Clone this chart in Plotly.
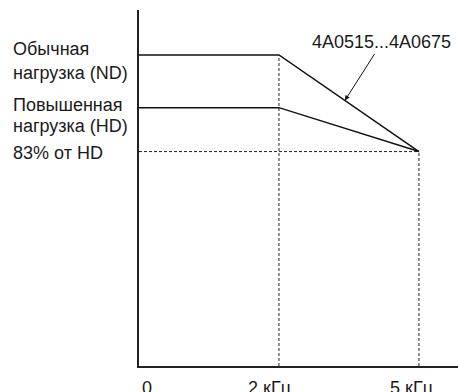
import plotly.graph_objects as go

# Data
x_pos = [0, 1, 2]
x_labels = ["0", "2 кГц", "5 кГц"]
nd_values = [120.4, 120.4, 83]
hd_values = [100, 100, 83]
hd83_value = 83
y_max = 137.8
x_max = 2.279

fig = go.Figure()

dash_style = dict(color="#222", width=1, dash="3px,2px")
# dashed guides
fig.add_trace(go.Scatter(x=[0, x_pos[2]], y=[hd83_value, hd83_value], mode="lines", line=dash_style, hoverinfo="skip"))
fig.add_trace(go.Scatter(x=[x_pos[1], x_pos[1]], y=[0, nd_values[1]], mode="lines", line=dash_style, hoverinfo="skip"))
fig.add_trace(go.Scatter(x=[x_pos[2], x_pos[2]], y=[0, hd83_value], mode="lines", line=dash_style, hoverinfo="skip"))

solid = dict(color="#111", width=1.5)
fig.add_trace(go.Scatter(x=x_pos, y=nd_values, mode="lines", line=solid))
fig.add_trace(go.Scatter(x=x_pos, y=hd_values, mode="lines", line=solid))

font = dict(family="Liberation Sans, Arial, sans-serif", size=18, color="#1a1a1a")

L, T, W, H = 139, 10, 458, 392
PW, PH = W - L, 356
B = H - T - PH

annotations = []
left_labels = [("Обычная", 49), ("нагрузка (ND)", 73.5), ("Повышенная", 104.5), ("нагрузка (HD)", 126), ("83% от HD", 153.5)]
for txt, py in left_labels:
    annotations.append(dict(text=txt, xref="paper", yref="paper", x=-L / PW, xshift=11, y=(H - B - py) / PH,
                            xanchor="left", yanchor="middle", showarrow=False, font=font))
# x tick labels
shifts = [1, -9, -7]
anchors = ["left", "center", "center"]
for xp, lab, s, a in zip(x_pos, x_labels, shifts, anchors):
    annotations.append(dict(text=lab, x=xp, xref="x", y=0, yref="y", yanchor="top", yshift=-10, xshift=s,
                            xanchor=a, showarrow=False, font=font))
# arrow annotation
ax_x = 1.471
ax_y = nd_values[1] + (nd_values[2] - nd_values[1]) * (ax_x - x_pos[1]) / (x_pos[2] - x_pos[1])
annotations.append(dict(text="4A0515...4A0675", x=ax_x, y=ax_y, xref="x", yref="y", ax=37, ay=-58,
                        showarrow=True, arrowhead=2, arrowsize=1, arrowwidth=1, arrowcolor="#111",
                        font=font, standoff=0))

fig.update_layout(
    width=W, height=H,
    margin=dict(l=L, r=0, t=T, b=B),
    paper_bgcolor="white", plot_bgcolor="white",
    showlegend=False,
    annotations=annotations,
    xaxis=dict(range=[0, x_max], showgrid=False, zeroline=False, showticklabels=False, ticks="",
               showline=True, linecolor="#222", linewidth=2),
    yaxis=dict(range=[0, y_max], showgrid=False, zeroline=False, showticklabels=False, ticks="",
               showline=True, linecolor="#222", linewidth=2),
)

fig.write_html("out.html", config={"displayModeBar": False},
               post_script="document.body.style.margin='0px';document.documentElement.style.overflow='hidden';document.body.style.overflow='hidden';")
